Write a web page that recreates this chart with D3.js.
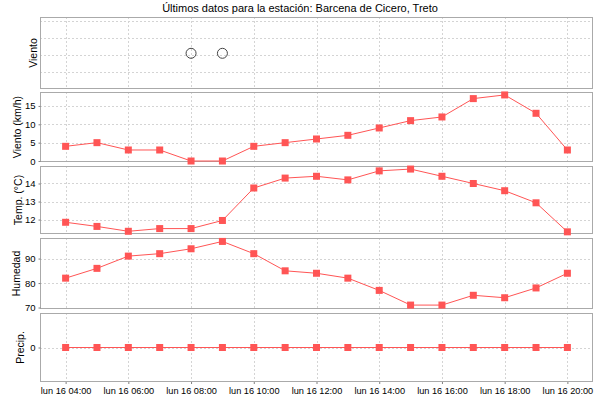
<!DOCTYPE html>
<html><head><meta charset="utf-8">
<script src="https://cdn.jsdelivr.net/npm/d3@7"></script>
<style>body{margin:0;background:#fff}svg{display:block;font-family:"Liberation Sans",Arial,sans-serif}</style>
</head><body><svg id="c" width="600" height="400"></svg>
<script>
const title = "Últimos datos para la estación: Barcena de Cicero, Treto";
const hours = [4,5,6,7,8,9,10,11,12,13,14,15,16,17,18,19,20];
const circleHours = [8,9];
const circleValues = [2.1,2.1];
const wind = [4,5,3,3,0,0,4,5,6,7,9,11,12,17,18,13,3];
const temp = [11.85,11.62,11.35,11.5,11.5,11.95,13.75,14.3,14.4,14.2,14.7,14.8,14.4,14.0,13.6,12.93,11.32];
const hum = [82,86,91,92,94,97,92,85,84,82,77,71,71,75,74,78,84];
const precip = [0,0,0,0,0,0,0,0,0,0,0,0,0,0,0,0,0];
const xTickHours = [4,6,8,10,12,14,16,18,20];
const dayLabel = "lun 16 ";

const svg = d3.select("#c");
const L = 40, R = 593;
const day = (h) => new Date(2015, 1, 16, 0, 0) .getTime() + h*3600000;
const x = d3.scaleTime().domain([new Date(day(4) - 49*60000), new Date(day(20) + 49*60000)]).range([L, R]);
const red = "#ff5555";

svg.append("text").attr("x", 300).attr("y", 12).attr("text-anchor","middle")
  .attr("font-size", 11).attr("fill","#000").text(title);

const panels = [
  {top:17, bot:89, domain:[0, 4.235], ticks:[1,2,3,4], labels:false, label:"Viento", lx:33, type:"circle"},
  {top:92, bot:162, domain:[-0.27, 18.8], ticks:[0,5,10,15], labels:true, label:"Viento (km/h)", lx:17, data:wind},
  {top:166, bot:234, domain:[11.2, 14.97], ticks:[12,13,14], labels:true, label:"Temp. (°C)", lx:18, data:temp},
  {top:238, bot:309, domain:[69.4, 98.4], ticks:[70,80,90], labels:true, label:"Humedad", lx:16, data:hum},
  {top:313, bot:382, domain:[-1, 1], ticks:[0], labels:true, label:"Precip.", lx:20, data:precip}
];

panels.forEach((p, i) => {
  const y = d3.scaleLinear().domain(p.domain).range([p.bot, p.top]);
  const g = svg.append("g");
  g.append("rect").attr("x", L).attr("y", p.top).attr("width", R-L).attr("height", p.bot-p.top).attr("fill","#fff");
  g.selectAll(".vg").data(xTickHours).join("line")
    .attr("x1", d => Math.round(x(day(d)))+0.5).attr("x2", d => Math.round(x(day(d)))+0.5)
    .attr("y1", p.top).attr("y2", p.bot).attr("stroke","#d4d4d4").attr("stroke-dasharray","2,2");
  g.selectAll(".hg").data(p.ticks).join("line")
    .attr("x1", L).attr("x2", R)
    .attr("y1", d => Math.round(y(d))+0.5).attr("y2", d => Math.round(y(d))+0.5)
    .attr("stroke","#d4d4d4").attr("stroke-dasharray","2,2");
  g.append("rect").attr("x", L+0.5).attr("y", p.top+0.5).attr("width", R-L-1).attr("height", p.bot-p.top-1)
    .attr("fill","none").attr("stroke","#aaaaaa");
  if (p.labels) {
    const ax = d3.axisLeft(y).tickValues(p.ticks).tickSize(2).tickPadding(3).tickFormat(d3.format("d"));
    const a = g.append("g").attr("transform", `translate(${L+0.5},0)`).call(ax);
    a.select(".domain").remove();
    a.selectAll("line").attr("stroke","#808080");
    a.selectAll("text").attr("font-size", 9.5).attr("fill","#000").attr("font-family","Liberation Sans, Arial, sans-serif");
  }
  g.append("text").attr("transform", `translate(${p.lx},${(p.top+p.bot)/2}) rotate(-90)`)
    .attr("text-anchor","middle").attr("dy","0.35em").attr("font-size", 10.5).attr("fill","#000").text(p.label);

  if (p.type === "circle") {
    g.selectAll("circle").data(circleHours).join("circle")
      .attr("cx", d => x(day(d))).attr("cy", (d, k) => y(circleValues[k])).attr("r", 5)
      .attr("fill","none").attr("stroke","#444");
  } else {
    const line = d3.line().x((d, k) => x(day(hours[k]))).y(d => y(d));
    g.append("path").datum(p.data).attr("d", line).attr("fill","none").attr("stroke", red).attr("stroke-width", 1);
    g.selectAll(".pt").data(p.data).join("rect")
      .attr("x", (d, k) => x(day(hours[k])) - 3.5).attr("y", d => y(d) - 3.5)
      .attr("width", 7).attr("height", 7).attr("fill", red);
  }
});

const last = panels[panels.length-1];
const xa = d3.axisBottom(x).tickValues(xTickHours.map(h => new Date(day(h)))).tickSize(2).tickPadding(3)
  .tickFormat(d => dayLabel + d3.timeFormat("%H:%M")(d));
const ga = svg.append("g").attr("transform", `translate(0,${last.bot})`).call(xa);
ga.select(".domain").remove();
ga.selectAll("line").attr("stroke","#808080");
ga.selectAll("text").attr("font-size", 9.2).attr("fill","#000").attr("font-family","Liberation Sans, Arial, sans-serif");
</script></body></html>
